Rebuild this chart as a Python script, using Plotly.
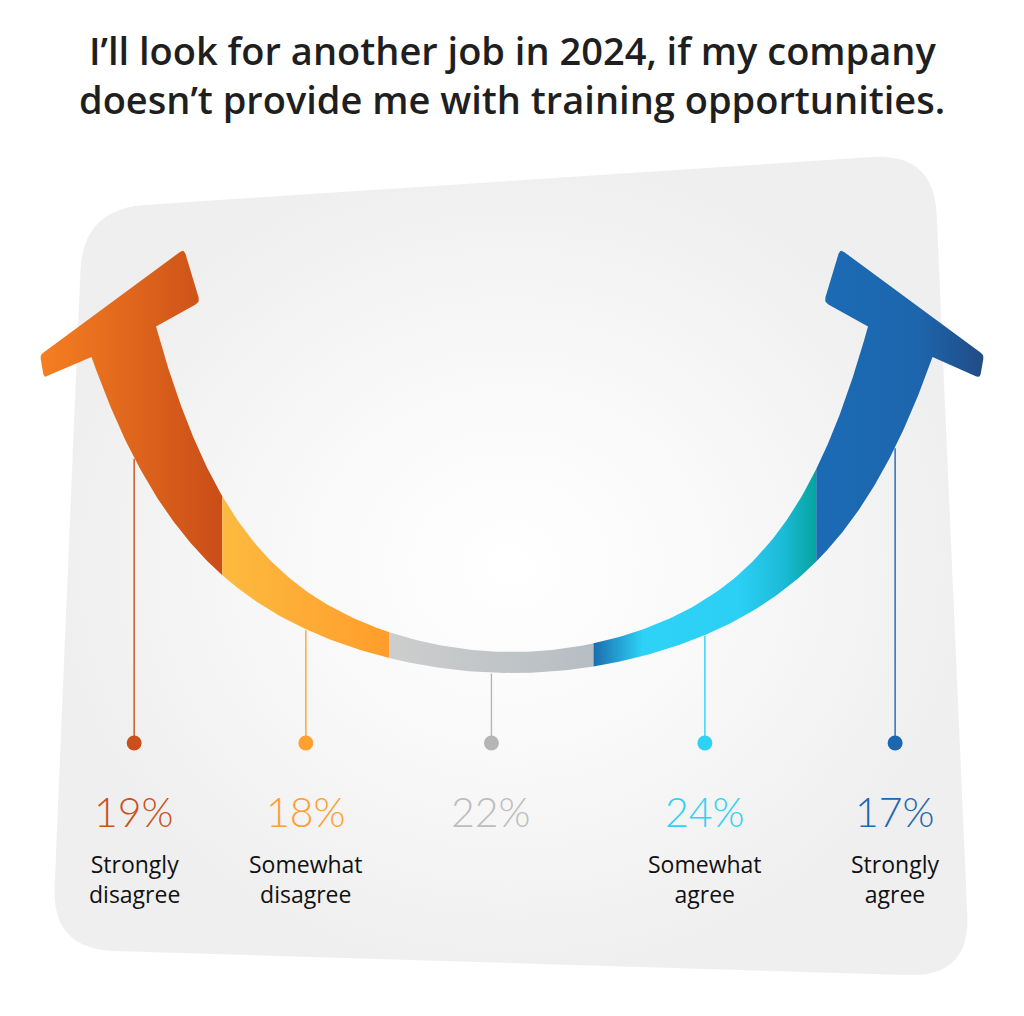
import numpy as np
import plotly.graph_objects as go

# ---------------- data ----------------
title_lines = ["I’ll look for another job in 2024, if my company",
               "doesn’t provide me with training opportunities."]
categories = ["Strongly<br>disagree", "Somewhat<br>disagree", "", "Somewhat<br>agree", "Strongly<br>agree"]
values = [19, 18, 22, 24, 17]
pct_labels = ["19%", "18%", "22%", "24%", "17%"]
text_colors = ["#C9531E", "#FFA032", "#BDBDBD", "#31D1F5", "#1E67B2"]
dot_colors = ["#C9501A", "#FFA030", "#B5B5B5", "#2ED2F7", "#1C67B0"]
seg_scales = [
    [[0, "#F57F22"], [1, "#C94D17"]],
    [[0, "#FDBA40"], [1, "#FF9D2A"]],
    [[0, "#CDCDCD"], [1, "#B6BEC3"]],
    [[0, "#1B6DAF"], [0.22, "#2DD2F6"], [0.65, "#2BD0F4"], [0.85, "#1CBBD8"], [1, "#05A39E"]],
    [[0, "#1B6BB4"], [0.6, "#1D66AE"], [1, "#214C86"]],
]

# ---------------- geometry (page-pixel space) ----------------
OFF = 8                      # default page body margin
FW, FH = 1008, 1000
CX = 512
SPAN_L, SPAN_R = 46, 974     # horizontal extent mapped to 0..100 %
DOT_Y, PCT_Y, LAB_Y = 743, 811, 879


def y_outer(x):
    s = ((np.asarray(x) - CX) / 100.0) ** 2
    return 673 - (9.85 * s + 0.02566 * s ** 3)


def y_inner(x):
    s = ((np.asarray(x) - CX) / 100.0) ** 2
    return 652 - (13.0 * s + 0.079 * s ** 3)


OUT_DX, IN_DX = 420.5, 356.0
arrow_left = [(44, 378), (40, 355), (184, 249), (200, 302)]

cum = np.cumsum([0] + values) / float(sum(values))
bounds = SPAN_L + cum * (SPAN_R - SPAN_L)
mids = (bounds[:-1] + bounds[1:]) / 2

fig = go.Figure()


def rounded_poly(corners, r, n=14):
    pts = []
    m = len(corners)
    for i in range(m):
        p_prev = np.array(corners[i - 1], float)
        p = np.array(corners[i], float)
        p_next = np.array(corners[(i + 1) % m], float)
        rr = r[i] if isinstance(r, (list, tuple)) else r
        if rr <= 0:
            pts.append(p)
            continue
        a = p + (p_prev - p) / np.linalg.norm(p_prev - p) * rr
        b = p + (p_next - p) / np.linalg.norm(p_next - p) * rr
        for t in np.linspace(0, 1, n):
            pts.append((1 - t) ** 2 * a + 2 * (1 - t) * t * p + t ** 2 * b)
    pts.append(pts[0])
    pts = np.array(pts)
    return list(pts[:, 0]), list(pts[:, 1])


# ---------------- background card ----------------
bx, by = rounded_poly([(83, 209), (934, 153), (970, 977), (52, 949)], 62)
fig.add_trace(go.Scatter(x=bx, y=by, mode="lines", fill="toself", line=dict(width=0),
                         fillcolor="#F1F1F1",
                         fillgradient=dict(type="radial",
                                           colorscale=[[0, "#FFFFFF"], [0.45, "#F9F9F9"], [1, "#EFEFEF"]]),
                         hoverinfo="skip", showlegend=False))

# ---------------- arc segments ----------------
for i in range(5):
    x0, x1 = bounds[i], bounds[i + 1]
    if i == 0:
        xi = np.linspace(CX - IN_DX, x1, 80)
        xo = np.linspace(x1, CX - OUT_DX, 80)
        pts = ([(CX - OUT_DX, float(y_outer(CX - OUT_DX)))] + arrow_left +
               list(zip(xi, y_inner(xi))) + list(zip(xo, y_outer(xo))))
        radii = [0, 4, 4, 5, 5] + [0] * (len(pts) - 5)
    elif i == 4:
        xi = np.linspace(x0, CX + IN_DX, 80)
        xo = np.linspace(CX + OUT_DX, x0, 80)
        ar = [(2 * CX - p[0], p[1]) for p in arrow_left[::-1]]
        pts = list(zip(xi, y_inner(xi))) + ar + list(zip(xo, y_outer(xo)))
        radii = [0] * 80 + [5, 5, 4, 4] + [0] * 80
    else:
        xi = np.linspace(x0, x1, 60)
        xo = xi[::-1]
        pts = list(zip(xi, y_inner(xi))) + list(zip(xo, y_outer(xo)))
        radii = [0] * len(pts)
    X, Y = rounded_poly(pts, radii, n=6)
    fig.add_trace(go.Scatter(x=X, y=Y, mode="lines", fill="toself", line=dict(width=0),
                             fillcolor=seg_scales[i][0][1],
                             fillgradient=dict(type="horizontal", colorscale=seg_scales[i]),
                             hoverinfo="skip", showlegend=False))

# ---------------- leader lines & dots ----------------
for i in range(5):
    xm = mids[i]
    fig.add_trace(go.Scatter(x=[xm, xm], y=[float(y_outer(xm)) + 1, DOT_Y], mode="lines",
                             line=dict(color=dot_colors[i], width=1.4),
                             hoverinfo="skip", showlegend=False))
fig.add_trace(go.Scatter(x=mids, y=[DOT_Y] * 5, mode="markers",
                         marker=dict(size=15, color=dot_colors, line=dict(width=0)),
                         hoverinfo="skip", showlegend=False))

# ---------------- text ----------------
ann = []
for k, line in enumerate(title_lines):
    ann.append(dict(x=CX, y=50 + 49 * k, xref="x", yref="y", text=line, showarrow=False,
                    font=dict(family="Open Sans", size=38, color="#1F1F1F", weight=600)))
for i in range(5):
    ann.append(dict(x=mids[i], y=PCT_Y, xref="x", yref="y", text=pct_labels[i], showarrow=False,
                    font=dict(family="Lato", size=41, color=text_colors[i], weight=300)))
    if categories[i]:
        ann.append(dict(x=mids[i], y=LAB_Y, xref="x", yref="y", text=categories[i], showarrow=False,
                        font=dict(family="Open Sans", size=23, color="#111111")))

fig.update_layout(
    width=FW, height=FH, margin=dict(l=0, r=0, t=0, b=0),
    paper_bgcolor="white", plot_bgcolor="white",
    xaxis=dict(range=[OFF, OFF + FW], visible=False, fixedrange=True),
    yaxis=dict(range=[OFF + FH, OFF], visible=False, fixedrange=True),
    annotations=ann, showlegend=False,
)
fig.write_html("out.html", config={"displayModeBar": False})
